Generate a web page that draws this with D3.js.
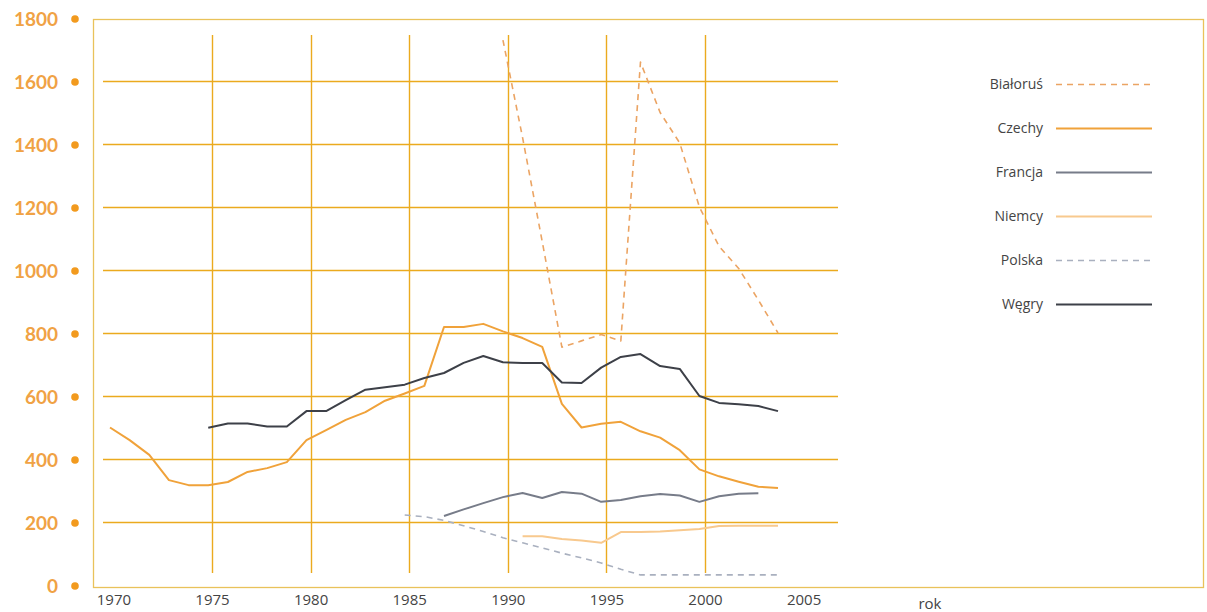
<!DOCTYPE html>
<html>
<head>
<meta charset="utf-8">
<script src="https://cdn.jsdelivr.net/npm/d3@7"></script>
<style>
  body { margin: 0; background: #fff; }
  svg { display: block; }
</style>
</head>
<body>
<script>
// Data
const belarusYears = [1990, 1991, 1992, 1993, 1994, 1995, 1996, 1997, 1998, 1999, 2000, 2001, 2002, 2003, 2004];
const belarusValues = [1730, 1420, 1090, 755, 775, 795, 775, 1660, 1500, 1403, 1200, 1075, 1005, 905, 800];

const czechYears = d3.range(1970, 2005);
const czechValues = [500, 460, 413, 333, 317, 317, 327, 359, 371, 390, 460, 492, 524, 549, 585, 608, 632, 819, 819, 829,
  805, 784, 756, 575, 500, 512, 518, 488, 468, 428, 367, 345, 328, 312, 308];

const franceYears = d3.range(1987, 2004);
const franceValues = [219, 240, 260, 279, 292, 276, 295, 290, 264, 270, 282, 289, 284, 264, 282, 290, 291];

const germanyYears = d3.range(1991, 2005);
const germanyValues = [155, 155, 146, 141, 134, 168, 168, 170, 174, 178, 187, 188, 188, 188];

const polandYears = d3.range(1985, 2005);
const polandValues = [222, 217, 205, 188, 170, 150, 134, 118, 101, 86, 70, 50, 32, 32, 32, 32, 32, 32, 32, 32];

const hungaryYears = d3.range(1975, 2005);
const hungaryValues = [499, 513, 513, 503, 503, 552, 552, 587, 620, 628, 636, 657, 673, 705, 727, 707, 705, 705, 643, 641,
  690, 724, 733, 695, 686, 600, 578, 574, 568, 552];

const seriesNames = ['Białoruś', 'Czechy', 'Francja', 'Niemcy', 'Polska', 'Węgry'];
const yTicks = [0, 200, 400, 600, 800, 1000, 1200, 1400, 1600, 1800];
const xTicks = [1970, 1975, 1980, 1985, 1990, 1995, 2000, 2005];
const gridYears = [1975, 1980, 1985, 1990, 1995, 2000];
const gridValues = [200, 400, 600, 800, 1000, 1200, 1400, 1600];
const xAxisLabel = 'rok';

// Layout
const width = 1207;
const height = 612;
const gridColor = '#EBAA1E';
const frameColor = '#E9C25A';
const labelFont = '"Open Sans", "DejaVu Sans", sans-serif';

const series = [
  {name: seriesNames[0], years: belarusYears, values: belarusValues, color: '#EBA463', width: 1.6, dash: '6,5'},
  {name: seriesNames[1], years: czechYears, values: czechValues, color: '#F0A23A', width: 2, dash: null},
  {name: seriesNames[2], years: franceYears, values: franceValues, color: '#777C89', width: 2, dash: null},
  {name: seriesNames[3], years: germanyYears, values: germanyValues, color: '#F8C98E', width: 2, dash: null},
  {name: seriesNames[4], years: polandYears, values: polandValues, color: '#A9B0BF', width: 1.6, dash: '6,5'},
  {name: seriesNames[5], years: hungaryYears, values: hungaryValues, color: '#3D4048', width: 2, dash: null}
];

const svg = d3.select('body')
  .append('svg')
  .attr('width', width)
  .attr('height', height);

// Scales (grid/labels and the plotted data sit a few px apart in the original)
const xScale = d3.scaleLinear()
  .domain([1970, 2000])
  .range([113.4, 705]);

const xData = d3.scaleLinear()
  .domain([1970, 2004])
  .range([110, 778]);

const yScale = d3.scaleLinear()
  .domain([0, 1800])
  .range([585, 18]);

// Frame
svg.append('rect')
  .attr('x', 93.5)
  .attr('y', 19.5)
  .attr('width', 1110)
  .attr('height', 568)
  .attr('fill', 'none')
  .attr('stroke', frameColor)
  .attr('stroke-width', 1.3);

// Grid
svg.append('g')
  .selectAll('line')
  .data(gridValues)
  .enter()
  .append('line')
  .attr('x1', 103)
  .attr('x2', 838)
  .attr('y1', d => Math.round(yScale(d)) + 0.5)
  .attr('y2', d => Math.round(yScale(d)) + 0.5)
  .attr('stroke', gridColor)
  .attr('stroke-width', 1.4);

svg.append('g')
  .selectAll('line')
  .data(gridYears)
  .enter()
  .append('line')
  .attr('x1', d => Math.round(xScale(d)) + 0.5)
  .attr('x2', d => Math.round(xScale(d)) + 0.5)
  .attr('y1', 35)
  .attr('y2', 573)
  .attr('stroke', gridColor)
  .attr('stroke-width', 1.4);

// Y axis labels with dots
const yAxis = d3.axisLeft(yScale)
  .tickValues(yTicks)
  .tickSize(0)
  .tickPadding(0)
  .tickFormat(d3.format('d'));

const yAxisG = svg.append('g')
  .attr('transform', 'translate(58, 1)')
  .call(yAxis);

yAxisG.select('.domain').remove();
yAxisG.selectAll('text')
  .attr('fill', '#F0A244')
  .attr('font-family', 'Lato, "Open Sans", sans-serif')
  .attr('font-weight', 'bold')
  .attr('font-size', '19px');

svg.append('g')
  .selectAll('circle')
  .data(yTicks)
  .enter()
  .append('circle')
  .attr('cx', 75)
  .attr('cy', d => yScale(d) + 1)
  .attr('r', 3.8)
  .attr('fill', '#F29A1E');

// X axis labels
const xAxis = d3.axisBottom(xScale)
  .tickValues(xTicks)
  .tickSize(0)
  .tickPadding(0)
  .tickFormat(d3.format('d'));

const xAxisG = svg.append('g')
  .attr('transform', 'translate(0, 594)')
  .call(xAxis);

xAxisG.select('.domain').remove();
xAxisG.selectAll('text')
  .attr('fill', '#444')
  .attr('font-family', labelFont)
  .attr('font-size', '15px');

svg.append('text')
  .attr('x', 930)
  .attr('y', 609)
  .attr('text-anchor', 'middle')
  .attr('fill', '#444')
  .attr('font-family', labelFont)
  .attr('font-size', '15px')
  .text(xAxisLabel);

// Lines
const line = d3.line()
  .x(d => xData(d[0]))
  .y(d => yScale(d[1]));

svg.append('g')
  .selectAll('path')
  .data(series)
  .enter()
  .append('path')
  .attr('d', s => line(s.years.map((yr, i) => [yr, s.values[i]])))
  .attr('fill', 'none')
  .attr('stroke', s => s.color)
  .attr('stroke-width', s => s.width)
  .attr('stroke-dasharray', s => s.dash)
  .attr('stroke-linejoin', 'round');

// Legend
const legend = svg.append('g')
  .selectAll('g')
  .data(series)
  .enter()
  .append('g')
  .attr('transform', (s, i) => `translate(0, ${84 + i * 44})`);

legend.append('text')
  .attr('x', 1043)
  .attr('y', 5)
  .attr('text-anchor', 'end')
  .attr('fill', '#444')
  .attr('font-family', labelFont)
  .attr('font-size', '14px')
  .text(s => s.name);

legend.append('line')
  .attr('x1', 1056)
  .attr('x2', 1152)
  .attr('y1', 0.5)
  .attr('y2', 0.5)
  .attr('stroke', s => s.color)
  .attr('stroke-width', s => s.width)
  .attr('stroke-dasharray', s => s.dash);
</script>
</body>
</html>
